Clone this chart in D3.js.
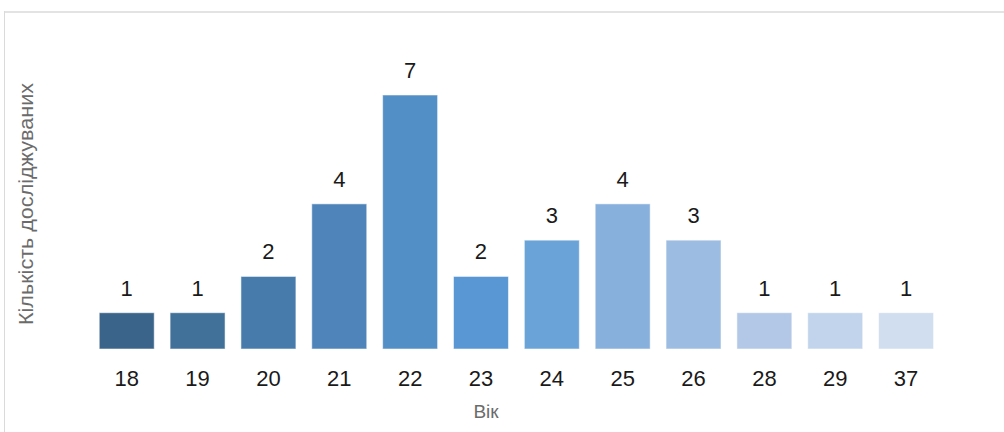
<!DOCTYPE html>
<html>
<head>
<meta charset="utf-8">
<script src="https://cdn.jsdelivr.net/npm/d3@7"></script>
<style>
  html, body { margin: 0; padding: 0; background: #fff; }
  svg { display: block; }
</style>
</head>
<body>
<svg id="chart" width="1004" height="432"></svg>
<script>
// Age groups and number of respondents in each
const ages = ["18", "19", "20", "21", "22", "23", "24", "25", "26", "28", "29", "37"];
const counts = [1, 1, 2, 4, 7, 2, 3, 4, 3, 1, 1, 1];
const barColors = ["#3a6489", "#417099", "#477bab", "#4e84b9", "#528fc6", "#5897d3",
                   "#6aa3d8", "#87b0dc", "#9dbce2", "#b2c8e6", "#c2d4eb", "#d1deef"];
const xTitle = "Вік";
const yTitle = "Кількість досліджуваних";

const svg = d3.select("#chart");
const W = 1004, H = 432;

// chart frame: top and left edges only
svg.append("line").attr("x1", 4).attr("x2", W).attr("y1", 12).attr("y2", 12)
  .attr("stroke", "#e3e3e3").attr("stroke-width", 2);
svg.append("line").attr("x1", 4.5).attr("x2", 4.5).attr("y1", 11).attr("y2", H)
  .attr("stroke", "#dadada").attr("stroke-width", 1);

const x = d3.scaleBand().domain(ages).range([91.3, 941.5]).paddingInner(0.224).paddingOuter(0.112);
const y = d3.scaleLinear().domain([0, 7]).range([349, 95]);

const font = "'Liberation Sans', Arial, sans-serif";

// bars
svg.append("g").selectAll("rect")
  .data(ages)
  .join("rect")
  .attr("x", d => x(d))
  .attr("width", x.bandwidth())
  .attr("y", (d, i) => y(counts[i]))
  .attr("height", (d, i) => y(0) - y(counts[i]))
  .attr("fill", (d, i) => barColors[i])
  .attr("stroke", "rgba(255,255,255,0.55)")
  .attr("stroke-width", 1);

// value labels
svg.append("g").selectAll("text")
  .data(ages)
  .join("text")
  .attr("x", d => x(d) + x.bandwidth() / 2)
  .attr("y", (d, i) => y(counts[i]) - 17)
  .attr("text-anchor", "middle")
  .attr("font-family", font)
  .attr("font-size", 22)
  .attr("fill", "#1a1a1a")
  .text((d, i) => counts[i]);

// category axis (labels only)
const xAxis = d3.axisBottom(x).tickSize(0).tickPadding(0);
const gx = svg.append("g").attr("transform", "translate(0,386)").call(xAxis);
gx.select(".domain").remove();
gx.selectAll("text")
  .attr("dy", 0)
  .attr("y", 0)
  .attr("font-family", font)
  .attr("font-size", 22)
  .attr("fill", "#1a1a1a");

// axis titles
svg.append("text")
  .attr("x", 486).attr("y", 418)
  .attr("text-anchor", "middle")
  .attr("font-family", font)
  .attr("font-size", 19)
  .attr("fill", "#6b6b6b")
  .text(xTitle);

svg.append("text")
  .attr("transform", "translate(33,204) rotate(-90)")
  .attr("text-anchor", "middle")
  .attr("font-family", font)
  .attr("font-size", 20)
  .attr("textLength", 242)
  .attr("lengthAdjust", "spacingAndGlyphs")
  .attr("fill", "#6b6b6b")
  .text(yTitle);
</script>
</body>
</html>
